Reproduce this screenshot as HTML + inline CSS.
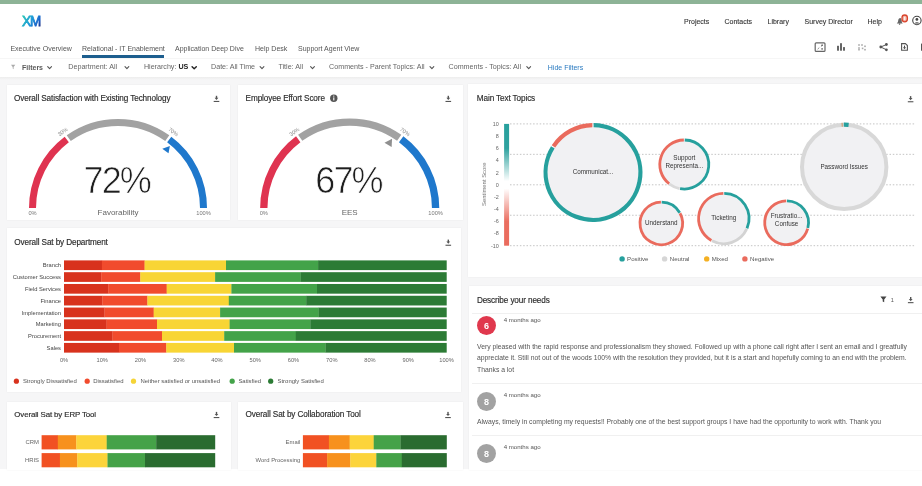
<!DOCTYPE html>
<html><head><meta charset="utf-8">
<style>
*{margin:0;padding:0;box-sizing:border-box}
html,body{width:922px;height:486px;overflow:hidden;background:#fff}
body{position:relative;font-family:"Liberation Sans",sans-serif;color:#333}
.a{position:absolute;white-space:nowrap;line-height:1}
.card{position:absolute;background:#fff;box-shadow:0 0 1.5px rgba(0,0,0,0.07)}
.t7{font-size:7px;color:#444}
.nav{-webkit-text-stroke:0.12px currentColor;color:#383838}
.ttl{font-size:8.2px;letter-spacing:-0.12px;color:#2b2b2b;-webkit-text-stroke:0.15px #2b2b2b}
svg.full{position:absolute;left:0;top:0;width:922px;height:486px}
body{filter:blur(0.3px)}
</style></head>
<body>
<!-- top green bar -->
<div class="a" style="left:0;top:0;width:922px;height:4px;background:#8db396"></div>


<!-- top nav -->
<div class="a t7 nav" style="left:684px;top:17.5px">Projects</div>
<div class="a t7 nav" style="left:724.5px;top:17.5px">Contacts</div>
<div class="a t7 nav" style="left:767.5px;top:17.5px">Library</div>
<div class="a t7 nav" style="left:804.5px;top:17.5px">Survey Director</div>
<div class="a t7 nav" style="left:867.5px;top:17.5px">Help</div>

<!-- tabs -->
<div class="a t7" style="left:10.4px;top:44.5px;color:#555">Executive Overview</div>
<div class="a t7" style="left:82px;top:44.5px;color:#555">Relational - IT Enablement</div>
<div class="a t7" style="left:175px;top:44.5px;color:#555">Application Deep Dive</div>
<div class="a t7" style="left:255px;top:44.5px;color:#555">Help Desk</div>
<div class="a t7" style="left:298px;top:44.5px;color:#555">Support Agent View</div>
<div class="a" style="left:82px;top:55.3px;width:81.6px;height:2.3px;background:#1d5e8e"></div>
<div class="a" style="left:0;top:57.5px;width:922px;height:1px;background:#f6f6f6"></div>

<!-- filter row -->
<div class="a t7" style="left:22px;top:63.5px;font-weight:bold;color:#5a5a5a">Filters</div>
<div class="a t7" style="left:68.3px;top:63.5px;color:#666;font-size:7.15px">Department: All</div>
<div class="a t7" style="left:143.9px;top:63.5px;color:#666;font-size:7.15px">Hierarchy: <b style="color:#222">US</b></div>
<div class="a t7" style="left:211px;top:63.5px;color:#666;font-size:7.15px">Date: All Time</div>
<div class="a t7" style="left:278.4px;top:63.5px;color:#666;font-size:7.15px">Title: All</div>
<div class="a t7" style="left:329.1px;top:63.5px;color:#666;font-size:7.15px">Comments - Parent Topics: All</div>
<div class="a t7" style="left:448.5px;top:63.5px;color:#666;font-size:7.15px">Comments - Topics: All</div>
<div class="a t7" style="left:547.8px;top:63.5px;color:#2a7ac0">Hide Filters</div>

<!-- gray dashboard background -->
<div class="a" style="left:0;top:77px;width:922px;height:392px;background:#f6f6f7"></div>
<div class="a" style="left:0;top:77px;width:922px;height:3px;background:linear-gradient(#ededed,#f6f6f7)"></div>

<!-- cards -->
<div class="card" style="left:7px;top:85px;width:222.5px;height:135px"></div>
<div class="card" style="left:238px;top:85px;width:224.8px;height:135px"></div>
<div class="card" style="left:468px;top:84px;width:454px;height:193px"></div>
<div class="card" style="left:7px;top:228px;width:454px;height:164px"></div>
<div class="card" style="left:6.5px;top:401.5px;width:224.5px;height:68px"></div>
<div class="card" style="left:238px;top:401.5px;width:224.5px;height:68.5px"></div>
<div class="card" style="left:469px;top:286px;width:453px;height:184px"></div>

<!-- card titles -->
<div class="a ttl" style="left:14px;top:95.2px">Overall Satisfaction with Existing Technology</div>
<div class="a ttl" style="left:245.6px;top:95.2px">Employee Effort Score</div>
<div class="a ttl" style="left:476.8px;top:95.2px">Main Text Topics</div>
<div class="a ttl" style="left:14.3px;top:239.2px">Overall Sat by Department</div>
<div class="a ttl" style="left:14.3px;top:411.2px;font-size:7.9px">Overall Sat by ERP Tool</div>
<div class="a ttl" style="left:245.6px;top:411.2px">Overall Sat by Collaboration Tool</div>
<div class="a ttl" style="left:476.9px;top:296.7px">Describe your needs</div>

<!-- comments -->
<div class="a" style="left:471.5px;top:313px;width:451px;height:1px;background:#f0f0f0"></div>
<div class="a" style="left:476.9px;top:316.4px;width:19px;height:19px;border-radius:50%;background:#e0384d;color:#fff;font-size:9px;line-height:20.5px;font-weight:bold;text-align:center">6</div>
<div class="a" style="left:503.7px;top:316.9px;font-size:6.1px;color:#555">4 months ago</div>
<div class="a" style="left:477px;top:343.8px;font-size:6.8px;color:#555">Very pleased with the rapid response and professionalism they showed. Followed up with a phone call right after I sent an email and I greatfully</div>
<div class="a" style="left:477px;top:355.4px;font-size:6.8px;color:#555">appreciate it. Still not out of the woods 100% with the resolution they provided, but it is a start and hopefully coming to an end with the problem.</div>
<div class="a" style="left:477px;top:367.2px;font-size:6.8px;color:#555">Thanks a lot</div>
<div class="a" style="left:471.5px;top:383px;width:451px;height:1px;background:#f0f0f0"></div>
<div class="a" style="left:476.9px;top:391.5px;width:19px;height:19px;border-radius:50%;background:#a2a2a2;color:#fff;font-size:9px;line-height:20.5px;font-weight:bold;text-align:center">8</div>
<div class="a" style="left:503.7px;top:391.6px;font-size:6.1px;color:#555">4 months ago</div>
<div class="a" style="left:477px;top:418.7px;font-size:6.8px;color:#555">Always, timely in completing my requests!! Probably one of the best support groups I have had the opportunity to work with. Thank you</div>
<div class="a" style="left:471.5px;top:435px;width:451px;height:1px;background:#f0f0f0"></div>
<div class="a" style="left:476.9px;top:443.5px;width:19px;height:19px;border-radius:50%;background:#a2a2a2;color:#fff;font-size:9px;line-height:20.5px;font-weight:bold;text-align:center">8</div>
<div class="a" style="left:503.7px;top:443.8px;font-size:6.1px;color:#555">4 months ago</div>

<svg class="full" viewBox="0 0 922 486">
<path d="M32.50 208.00A85.5 85.5 0 0 1 66.77 139.55" stroke="#df3350" stroke-width="7" fill="none"/>
<path d="M68.73 138.13A85.5 85.5 0 0 1 167.27 138.13" stroke="#a2a2a2" stroke-width="7" fill="none"/>
<path d="M169.23 139.55A85.5 85.5 0 0 1 203.50 208.00" stroke="#1f78cc" stroke-width="7" fill="none"/>
<polygon points="162.30,148.70 169.90,145.90 168.50,153.30" fill="#1f78cc"/>
<text x="63.75" y="133.33" transform="rotate(-36.0 63.75 133.33)" font-size="5.4" fill="#888" text-anchor="middle">30%</text>
<text x="172.25" y="133.33" transform="rotate(36.0 172.25 133.33)" font-size="5.4" fill="#888" text-anchor="middle">70%</text>
<text x="32.50" y="215.10" font-size="5.7" fill="#777" text-anchor="middle">0%</text>
<text x="203.50" y="215.10" font-size="5.7" fill="#777" text-anchor="middle">100%</text>
<text x="116.80" y="192.50" font-size="36" fill="#1e1e1e" stroke="#fff" stroke-width="0.7" text-anchor="middle" letter-spacing="-1.9">72%</text>
<text x="118.00" y="215.40" font-size="8" fill="#666" text-anchor="middle">Favorability</text>
<path d="M263.80 208.00A85.9 85.9 0 0 1 298.23 139.23" stroke="#df3350" stroke-width="7.3" fill="none"/>
<path d="M300.20 137.80A85.9 85.9 0 0 1 399.20 137.80" stroke="#a2a2a2" stroke-width="7.3" fill="none"/>
<path d="M401.17 139.23A85.9 85.9 0 0 1 435.60 208.00" stroke="#1f78cc" stroke-width="7.3" fill="none"/>
<polygon points="384.50,142.70 392.10,138.80 391.60,146.90" fill="#8f8f8f"/>
<text x="295.45" y="133.33" transform="rotate(-36.0 295.45 133.33)" font-size="5.4" fill="#888" text-anchor="middle">30%</text>
<text x="403.95" y="133.33" transform="rotate(36.0 403.95 133.33)" font-size="5.4" fill="#888" text-anchor="middle">70%</text>
<text x="263.80" y="215.10" font-size="5.7" fill="#777" text-anchor="middle">0%</text>
<text x="435.60" y="215.10" font-size="5.7" fill="#777" text-anchor="middle">100%</text>
<text x="348.50" y="192.50" font-size="36" fill="#1e1e1e" stroke="#fff" stroke-width="0.7" text-anchor="middle" letter-spacing="-1.9">67%</text>
<text x="349.70" y="215.40" font-size="8" fill="#666" text-anchor="middle">EES</text>
</svg>
<svg class="full" viewBox="0 0 922 486">
<rect x="64.0" y="260.40" width="38.1" height="9.7" fill="#d8321d"/>
<rect x="101.9" y="260.40" width="42.9" height="9.7" fill="#f14b2d"/>
<rect x="144.6" y="260.40" width="81.6" height="9.7" fill="#f8d535"/>
<rect x="226.0" y="260.40" width="92.3" height="9.7" fill="#43a349"/>
<rect x="318.1" y="260.40" width="128.6" height="9.7" fill="#2c7b35"/>
<text x="61" y="267.35" font-size="5.75" fill="#444" text-anchor="end">Branch</text>
<rect x="64.0" y="272.19" width="37.4" height="9.7" fill="#d8321d"/>
<rect x="101.2" y="272.19" width="39.3" height="9.7" fill="#f14b2d"/>
<rect x="140.3" y="272.19" width="75.0" height="9.7" fill="#f8d535"/>
<rect x="215.1" y="272.19" width="85.7" height="9.7" fill="#43a349"/>
<rect x="300.6" y="272.19" width="146.1" height="9.7" fill="#2c7b35"/>
<text x="61" y="279.14" font-size="5.75" fill="#444" text-anchor="end">Customer Success</text>
<rect x="64.0" y="283.98" width="44.4" height="9.7" fill="#d8321d"/>
<rect x="108.2" y="283.98" width="58.7" height="9.7" fill="#f14b2d"/>
<rect x="166.7" y="283.98" width="64.9" height="9.7" fill="#f8d535"/>
<rect x="231.4" y="283.98" width="85.8" height="9.7" fill="#43a349"/>
<rect x="317.0" y="283.98" width="129.7" height="9.7" fill="#2c7b35"/>
<text x="61" y="290.93" font-size="5.75" fill="#444" text-anchor="end">Field Services</text>
<rect x="64.0" y="295.77" width="38.5" height="9.7" fill="#d8321d"/>
<rect x="102.3" y="295.77" width="45.3" height="9.7" fill="#f14b2d"/>
<rect x="147.4" y="295.77" width="81.6" height="9.7" fill="#f8d535"/>
<rect x="228.8" y="295.77" width="77.6" height="9.7" fill="#43a349"/>
<rect x="306.2" y="295.77" width="140.5" height="9.7" fill="#2c7b35"/>
<text x="61" y="302.72" font-size="5.75" fill="#444" text-anchor="end">Finance</text>
<rect x="64.0" y="307.56" width="40.7" height="9.7" fill="#d8321d"/>
<rect x="104.5" y="307.56" width="49.4" height="9.7" fill="#f14b2d"/>
<rect x="153.7" y="307.56" width="66.6" height="9.7" fill="#f8d535"/>
<rect x="220.1" y="307.56" width="98.7" height="9.7" fill="#43a349"/>
<rect x="318.6" y="307.56" width="128.1" height="9.7" fill="#2c7b35"/>
<text x="61" y="314.51" font-size="5.75" fill="#444" text-anchor="end">Implementation</text>
<rect x="64.0" y="319.35" width="42.8" height="9.7" fill="#d8321d"/>
<rect x="106.6" y="319.35" width="50.6" height="9.7" fill="#f14b2d"/>
<rect x="157.0" y="319.35" width="72.8" height="9.7" fill="#f8d535"/>
<rect x="229.6" y="319.35" width="80.9" height="9.7" fill="#43a349"/>
<rect x="310.3" y="319.35" width="136.4" height="9.7" fill="#2c7b35"/>
<text x="61" y="326.30" font-size="5.75" fill="#444" text-anchor="end">Marketing</text>
<rect x="64.0" y="331.14" width="48.7" height="9.7" fill="#d8321d"/>
<rect x="112.5" y="331.14" width="49.7" height="9.7" fill="#f14b2d"/>
<rect x="162.0" y="331.14" width="62.4" height="9.7" fill="#f8d535"/>
<rect x="224.2" y="331.14" width="71.8" height="9.7" fill="#43a349"/>
<rect x="295.8" y="331.14" width="150.9" height="9.7" fill="#2c7b35"/>
<text x="61" y="338.09" font-size="5.75" fill="#444" text-anchor="end">Procurement</text>
<rect x="64.0" y="342.93" width="55.2" height="9.7" fill="#d8321d"/>
<rect x="119.0" y="342.93" width="47.5" height="9.7" fill="#f14b2d"/>
<rect x="166.3" y="342.93" width="67.9" height="9.7" fill="#f8d535"/>
<rect x="234.0" y="342.93" width="91.7" height="9.7" fill="#43a349"/>
<rect x="325.5" y="342.93" width="121.2" height="9.7" fill="#2c7b35"/>
<text x="61" y="349.88" font-size="5.75" fill="#444" text-anchor="end">Sales</text>
<text x="64.0" y="361.9" font-size="5.7" fill="#666" text-anchor="middle">0%</text>
<text x="102.2" y="361.9" font-size="5.7" fill="#666" text-anchor="middle">10%</text>
<text x="140.5" y="361.9" font-size="5.7" fill="#666" text-anchor="middle">20%</text>
<text x="178.8" y="361.9" font-size="5.7" fill="#666" text-anchor="middle">30%</text>
<text x="217.0" y="361.9" font-size="5.7" fill="#666" text-anchor="middle">40%</text>
<text x="255.2" y="361.9" font-size="5.7" fill="#666" text-anchor="middle">50%</text>
<text x="293.5" y="361.9" font-size="5.7" fill="#666" text-anchor="middle">60%</text>
<text x="331.8" y="361.9" font-size="5.7" fill="#666" text-anchor="middle">70%</text>
<text x="370.0" y="361.9" font-size="5.7" fill="#666" text-anchor="middle">80%</text>
<text x="408.2" y="361.9" font-size="5.7" fill="#666" text-anchor="middle">90%</text>
<text x="446.5" y="361.9" font-size="5.7" fill="#666" text-anchor="middle">100%</text>
<circle cx="16.4" cy="381.2" r="2.6" fill="#d8321d"/>
<text x="22.9" y="383.3" font-size="5.95" fill="#555">Strongly Dissatisfied</text>
<circle cx="87.2" cy="381.2" r="2.6" fill="#f14b2d"/>
<text x="93.2" y="383.3" font-size="5.95" fill="#555">Dissatisfied</text>
<circle cx="133.5" cy="381.2" r="2.6" fill="#f5d437"/>
<text x="140.5" y="383.3" font-size="5.95" fill="#555">Neither satisfied or unsatisfied</text>
<circle cx="232.2" cy="381.2" r="2.6" fill="#43a349"/>
<text x="238.4" y="383.3" font-size="5.95" fill="#555">Satisfied</text>
<circle cx="270.7" cy="381.2" r="2.6" fill="#2c7b35"/>
<text x="277.5" y="383.3" font-size="5.95" fill="#555">Strongly Satisfied</text>
<rect x="41.6" y="435.20" width="16.4" height="14.2" fill="#f15123"/>
<rect x="57.8" y="435.20" width="18.7" height="14.2" fill="#f7911d"/>
<rect x="76.3" y="435.20" width="30.6" height="14.2" fill="#fcd43b"/>
<rect x="106.7" y="435.20" width="49.7" height="14.2" fill="#45a248"/>
<rect x="156.2" y="435.20" width="59.0" height="14.2" fill="#2a6c30"/>
<text x="39" y="444.40" font-size="5.9" fill="#666" text-anchor="end">CRM</text>
<rect x="41.6" y="453.10" width="18.5" height="14.2" fill="#f15123"/>
<rect x="59.9" y="453.10" width="17.6" height="14.2" fill="#f7911d"/>
<rect x="77.3" y="453.10" width="30.4" height="14.2" fill="#fcd43b"/>
<rect x="107.5" y="453.10" width="37.7" height="14.2" fill="#45a248"/>
<rect x="145.0" y="453.10" width="70.2" height="14.2" fill="#2a6c30"/>
<text x="39" y="462.30" font-size="5.9" fill="#666" text-anchor="end">HRIS</text>
<rect x="302.9" y="435.20" width="26.2" height="14.2" fill="#f15123"/>
<rect x="328.9" y="435.20" width="21.0" height="14.2" fill="#f7911d"/>
<rect x="349.7" y="435.20" width="24.2" height="14.2" fill="#fcd43b"/>
<rect x="373.7" y="435.20" width="27.0" height="14.2" fill="#45a248"/>
<rect x="400.5" y="435.20" width="46.3" height="14.2" fill="#2a6c30"/>
<text x="300.3" y="444.40" font-size="5.9" fill="#666" text-anchor="end">Email</text>
<rect x="302.9" y="453.10" width="24.4" height="14.2" fill="#f15123"/>
<rect x="327.1" y="453.10" width="23.4" height="14.2" fill="#f7911d"/>
<rect x="350.3" y="453.10" width="26.2" height="14.2" fill="#fcd43b"/>
<rect x="376.3" y="453.10" width="25.7" height="14.2" fill="#45a248"/>
<rect x="401.8" y="453.10" width="45.0" height="14.2" fill="#2a6c30"/>
<text x="300.3" y="462.30" font-size="5.9" fill="#666" text-anchor="end">Word Processing</text>
</svg>
<svg class="full" viewBox="0 0 922 486">
<defs><linearGradient id="sg" x1="0" y1="0" x2="0" y2="1"><stop offset="0" stop-color="#27a09d"/><stop offset="0.2" stop-color="#2fa29f"/><stop offset="0.47" stop-color="#ffffff"/><stop offset="0.53" stop-color="#ffffff"/><stop offset="0.8" stop-color="#ea6e60"/><stop offset="1" stop-color="#ea6b5d"/></linearGradient></defs>
<text x="498.8" y="125.80" font-size="5.4" fill="#666" text-anchor="end">10</text>
<text x="498.8" y="137.98" font-size="5.4" fill="#666" text-anchor="end">8</text>
<text x="498.8" y="150.16" font-size="5.4" fill="#666" text-anchor="end">6</text>
<text x="498.8" y="162.34" font-size="5.4" fill="#666" text-anchor="end">4</text>
<text x="498.8" y="174.52" font-size="5.4" fill="#666" text-anchor="end">2</text>
<text x="498.8" y="186.70" font-size="5.4" fill="#666" text-anchor="end">0</text>
<text x="498.8" y="198.88" font-size="5.4" fill="#666" text-anchor="end">-2</text>
<text x="498.8" y="211.06" font-size="5.4" fill="#666" text-anchor="end">-4</text>
<text x="498.8" y="223.24" font-size="5.4" fill="#666" text-anchor="end">-6</text>
<text x="498.8" y="235.42" font-size="5.4" fill="#666" text-anchor="end">-8</text>
<text x="498.8" y="247.60" font-size="5.4" fill="#666" text-anchor="end">-10</text>
<rect x="504.1" y="123.90" width="5" height="121.80" fill="url(#sg)"/>
<line x1="510" y1="123.90" x2="915" y2="123.90" stroke="#bdbdbd" stroke-width="0.9" stroke-dasharray="1.5 1.8"/>
<line x1="510" y1="154.35" x2="915" y2="154.35" stroke="#bdbdbd" stroke-width="0.9" stroke-dasharray="1.5 1.8"/>
<line x1="510" y1="184.80" x2="915" y2="184.80" stroke="#bdbdbd" stroke-width="0.9" stroke-dasharray="1.5 1.8"/>
<line x1="510" y1="215.25" x2="915" y2="215.25" stroke="#bdbdbd" stroke-width="0.9" stroke-dasharray="1.5 1.8"/>
<line x1="510" y1="245.70" x2="915" y2="245.70" stroke="#bdbdbd" stroke-width="0.9" stroke-dasharray="1.5 1.8"/>
<text x="485.6" y="184.2" transform="rotate(-90 485.6 184.2)" font-size="5.9" fill="#777" text-anchor="middle">Sentiment Score</text>
<circle cx="593" cy="172.5" r="47.4" fill="#f1f1f3"/>
<path d="M593.66 125.10A47.4 47.4 0 1 1 552.80 147.38" fill="none" stroke="#26a09d" stroke-width="4.2"/>
<path d="M553.47 146.34A47.4 47.4 0 0 1 592.34 125.10" fill="none" stroke="#ea6b5d" stroke-width="4.2"/>
<text x="593" y="174.30" font-size="6.3" fill="#333" text-anchor="middle">Communicat...</text>
<circle cx="684.3" cy="164.5" r="24.5" fill="#f1f1f3"/>
<path d="M684.73 140.00A24.5 24.5 0 1 1 680.05 188.63" fill="none" stroke="#26a09d" stroke-width="2.8"/>
<path d="M679.54 188.53A24.5 24.5 0 0 1 669.56 184.07" fill="none" stroke="#dadada" stroke-width="2.8"/>
<path d="M669.15 183.75A24.5 24.5 0 0 1 683.87 140.00" fill="none" stroke="#ea6b5d" stroke-width="2.8"/>
<text x="684.3" y="159.90" font-size="6.3" fill="#333" text-anchor="middle">Support</text>
<text x="684.3" y="167.70" font-size="6.3" fill="#333" text-anchor="middle">Representa...</text>
<circle cx="661.3" cy="223.4" r="21.3" fill="#f1f1f3"/>
<path d="M661.67 202.10A21.3 21.3 0 0 1 679.75 212.75" fill="none" stroke="#26a09d" stroke-width="2.8"/>
<path d="M680.02 213.24A21.3 21.3 0 1 1 660.93 202.10" fill="none" stroke="#ea6b5d" stroke-width="2.8"/>
<text x="661.3" y="225.20" font-size="6.3" fill="#333" text-anchor="middle">Understand</text>
<circle cx="723.8" cy="218.5" r="25.200000000000003" fill="#f1f1f3"/>
<path d="M724.24 193.30A25.200000000000003 25.200000000000003 0 0 1 747.00 228.35" fill="none" stroke="#26a09d" stroke-width="2.8"/>
<path d="M746.73 228.95A25.200000000000003 25.200000000000003 0 0 1 711.97 240.75" fill="none" stroke="#d3d3d3" stroke-width="2.8"/>
<path d="M711.39 240.43A25.200000000000003 25.200000000000003 0 0 1 723.36 193.30" fill="none" stroke="#ea6b5d" stroke-width="2.8"/>
<text x="723.8" y="220.30" font-size="6.3" fill="#333" text-anchor="middle">Ticketing</text>
<circle cx="786.6" cy="222.7" r="21.900000000000002" fill="#f1f1f3"/>
<path d="M786.98 200.80A21.900000000000002 21.900000000000002 0 0 1 807.85 228.00" fill="none" stroke="#26a09d" stroke-width="2.8"/>
<path d="M807.70 228.55A21.900000000000002 21.900000000000002 0 1 1 786.22 200.80" fill="none" stroke="#ea6b5d" stroke-width="2.8"/>
<text x="786.6" y="218.10" font-size="6.3" fill="#333" text-anchor="middle">Frustratio...</text>
<text x="786.6" y="225.90" font-size="6.3" fill="#333" text-anchor="middle">Confuse</text>
<circle cx="844.2" cy="166.9" r="42.2" fill="#f1f1f3"/>
<circle cx="844.2" cy="166.9" r="42.2" fill="none" stroke="#d8d8d8" stroke-width="4.0"/>
<text x="844.2" y="168.70" font-size="6.3" fill="#333" text-anchor="middle">Password Issues</text>
<path d="M843.83 124.70A42.2 42.2 0 0 1 848.61 124.93" fill="none" stroke="#26a09d" stroke-width="4.2"/>
<path d="M841.70 124.77A42.2 42.2 0 0 1 842.58 124.73" fill="none" stroke="#c98a50" stroke-width="4.0"/>
<circle cx="622.1" cy="258.9" r="2.7" fill="#26a09d"/>
<text x="627.1" y="261.1" font-size="6.1" fill="#555">Positive</text>
<circle cx="664.6" cy="258.9" r="2.7" fill="#d6d6d6"/>
<text x="669.8" y="261.1" font-size="6.1" fill="#555">Neutral</text>
<circle cx="706.7" cy="258.9" r="2.7" fill="#f4b023"/>
<text x="711.7" y="261.1" font-size="6.1" fill="#555">Mixed</text>
<circle cx="744.9" cy="258.9" r="2.7" fill="#ea6b5d"/>
<text x="750.1" y="261.1" font-size="6.1" fill="#555">Negative</text>
</svg>
<svg class="full" viewBox="0 0 922 486">
<defs>
<linearGradient id="xmg" gradientUnits="userSpaceOnUse" x1="22" y1="16" x2="41" y2="27">
<stop offset="0" stop-color="#2bc9b4"/><stop offset="0.45" stop-color="#1b9ad8"/><stop offset="0.8" stop-color="#1a5fc8"/><stop offset="1" stop-color="#22246e"/>
</linearGradient>
</defs>
<!-- XM logo -->
<g fill="url(#xmg)" stroke="url(#xmg)" stroke-width="0.8" font-size="13.8"><text x="21.9" y="26.3">X</text><text x="29.9" y="26.3" textLength="11.2" lengthAdjust="spacingAndGlyphs">M</text></g>
<!-- bell -->
<path d="M896.8 23.4 L897.9 22.0 L898.4 19.6 Q898.9 17.9 900.2 18.0 Q901.4 18.2 901.6 19.9 L901.9 22.3 L902.7 23.6 Z" fill="#666"/>
<circle cx="899.6" cy="24.1" r="0.8" fill="#666"/>
<rect x="902" y="15" width="5.4" height="6.8" rx="2.7" fill="#f2b5a8" stroke="#d9442c" stroke-width="1.3"/>
<rect x="904.2" y="16.8" width="1.1" height="3.2" fill="#fff"/>
<!-- user -->
<circle cx="916.9" cy="20.5" r="4.2" fill="none" stroke="#444" stroke-width="1.1"/>
<circle cx="916.9" cy="19.4" r="1.4" fill="#444"/>
<path d="M914.2 23.5 Q916.9 20.8 919.6 23.5 Z" fill="#444"/>
<!-- toolbar icons -->
<rect x="815.2" y="42.8" width="9.8" height="8.6" rx="1" fill="none" stroke="#666" stroke-width="1.2"/>
<path d="M817.6 49.2 L819.3 47.6 M822.6 45.0 L820.9 46.6" stroke="#777" stroke-width="0.8"/>
<rect x="821.2" y="44.6" width="1.8" height="1.4" fill="#777"/><rect x="821.2" y="48.2" width="1.8" height="1.4" fill="#777"/>
<rect x="837" y="45.8" width="2" height="4.9" fill="#666"/>
<rect x="840" y="43.2" width="2" height="7.5" fill="#666"/>
<rect x="843" y="47.1" width="2" height="3.6" fill="#666"/>
<g fill="#aaa"><rect x="858.2" y="44.2" width="1.6" height="1.6"/><rect x="861.2" y="44.2" width="1.6" height="1.6"/><rect x="864.2" y="45.5" width="1.6" height="1.6"/><rect x="858.2" y="47.2" width="1.6" height="1.6"/><rect x="861.8" y="47.6" width="1.6" height="1.6"/><rect x="858.2" y="48.9" width="1.6" height="1.6"/><rect x="864.2" y="48.9" width="1.6" height="1.6"/></g>
<path d="M880.8 47 L886.4 44.5 M880.8 47 L886.4 49.8" stroke="#555" stroke-width="1"/>
<circle cx="880.8" cy="47" r="1.4" fill="#555"/><circle cx="886.4" cy="44.5" r="1.4" fill="#555"/><circle cx="886.4" cy="49.8" r="1.4" fill="#555"/>
<path d="M901.6 43.6 H905.4 L907.4 45.6 V50.2 H901.6 Z" fill="none" stroke="#555" stroke-width="1.1"/>
<rect x="904.0" y="45.6" width="1" height="2" fill="#444"/><path d="M903.0 47.3 H906 L904.5 49.3 Z" fill="#444"/>
<rect x="921" y="43.6" width="2" height="7.1" fill="#555"/>
<!-- filter row icons -->
<path d="M11 64.8 H15.3 L13.6 67.0 V69.2 L12.7 68.6 V67.0 Z" fill="#aaa"/>
<g fill="none" stroke-linecap="round" stroke-linejoin="round"><path d="M47.7 66.7 L49.6 68.7 L51.5 66.7" stroke="#555" stroke-width="1.1"/><path d="M125.0 66.7 L126.9 68.7 L128.8 66.7" stroke="#555" stroke-width="1.1"/><path d="M192.1 66.7 L194.2 68.7 L196.3 66.7" stroke="#222" stroke-width="1.45"/><path d="M260.1 66.7 L262.0 68.7 L263.9 66.7" stroke="#555" stroke-width="1.1"/><path d="M310.6 66.7 L312.5 68.7 L314.4 66.7" stroke="#555" stroke-width="1.1"/><path d="M430.0 66.7 L431.9 68.7 L433.8 66.7" stroke="#555" stroke-width="1.1"/><path d="M526.8 66.7 L528.7 68.7 L530.6 66.7" stroke="#555" stroke-width="1.1"/></g>
<!-- download icons -->
<g id="dl1" fill="#555">
<rect x="215.8" y="95.8" width="1.4" height="2.6"/><path d="M214.6 97.8 H218.4 L216.5 100 Z"/><rect x="213.7" y="100.9" width="5.6" height="1.1"/>
</g>
<g fill="#555">
<rect x="447.6" y="95.8" width="1.4" height="2.6"/><path d="M446.4 97.8 H450.2 L448.3 100 Z"/><rect x="445.5" y="100.9" width="5.6" height="1.1"/>
<rect x="909.9" y="96.1" width="1.4" height="2.6"/><path d="M908.7 98.1 H912.5 L910.6 100.3 Z"/><rect x="907.8" y="101.2" width="5.6" height="1.1"/>
<rect x="447.6" y="239.6" width="1.4" height="2.6"/><path d="M446.4 241.6 H450.2 L448.3 243.8 Z"/><rect x="445.5" y="244.7" width="5.6" height="1.1"/>
<rect x="215.8" y="411.9" width="1.4" height="2.6"/><path d="M214.6 413.9 H218.4 L216.5 416.1 Z"/><rect x="213.7" y="417" width="5.6" height="1.1"/>
<rect x="447.3" y="411.9" width="1.4" height="2.6"/><path d="M446.1 413.9 H449.9 L448 416.1 Z"/><rect x="445.2" y="417" width="5.6" height="1.1"/>
<rect x="910.0" y="297.0" width="1.4" height="2.6"/><path d="M908.8 299.0 H912.6 L910.7 301.2 Z"/><rect x="907.9" y="302.1" width="5.6" height="1.1"/>
</g>
<!-- info icon -->
<circle cx="333.8" cy="98.3" r="3.7" fill="#555"/>
<rect x="333.25" y="97.4" width="1.1" height="3" fill="#fff"/><circle cx="333.8" cy="96.1" r="0.65" fill="#fff"/>
<!-- comments filter icon -->
<path d="M880.4 296.6 H886.5 L884.2 299.4 V302.3 L882.7 301.5 V299.4 Z" fill="#444"/>
<text x="890.8" y="302.2" font-size="5.6" fill="#555">1</text>
</svg>

</body></html>
